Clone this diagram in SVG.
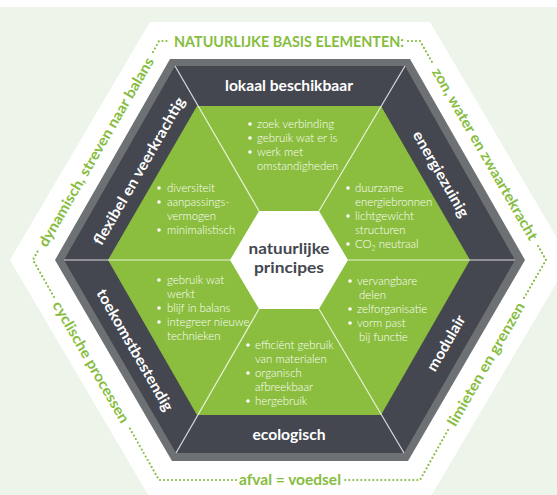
<svg xmlns="http://www.w3.org/2000/svg" width="557" height="495" viewBox="0 0 557 495">
<style>
.lbl{font-family:Lato,"Liberation Sans",sans-serif;font-weight:700;font-size:15px;fill:#ffffff;text-anchor:middle}
.out{font-family:Lato,"Liberation Sans",sans-serif;font-weight:700;font-size:14.5px;fill:#86bd40;text-anchor:middle}
.sec{font-family:Lato,"Liberation Sans",sans-serif;font-weight:300;font-size:11.4px;fill:#ffffff}
.ctr{font-family:Lato,"Liberation Sans",sans-serif;font-weight:700;font-size:16px;fill:#44474f;text-anchor:middle}
.div{stroke:#ffffff;stroke-opacity:0.8;stroke-width:1.2;fill:none}
.dot{stroke:#86bd40;stroke-width:2.2;stroke-linecap:round;stroke-dasharray:0 4;fill:none}
.bul{fill:#ffffff}
</style>
<rect width="557" height="495" fill="#edf5ea"/>
<rect width="557" height="7" fill="#ffffff"/>
<polygon points="150,22 430,22 570,260 430,498 150,498 10,260" fill="#ffffff"/>
<g id="frame">
<polygon points="170,59 410,59 525,260 408,461 172,461 55,260" fill="#6d7173"/>
<polygon points="175,66 405,66 515,260 404,453 176,453 64,260" fill="#44474f"/>
<polygon points="197,106 381,106 470,260 381,415 197,415 108,260" fill="#8bbe3e"/>
</g>
<g id="connectors">
<line class="div" x1="175" y1="66" x2="259" y2="211"/>
<line class="div" x1="405" y1="66" x2="319" y2="211"/>
<line class="div" x1="64" y1="260" x2="230" y2="260"/>
<line class="div" x1="515" y1="260" x2="348" y2="260"/>
<line class="div" x1="176" y1="453" x2="259" y2="309"/>
<line class="div" x1="404" y1="453" x2="319" y2="309"/>
<polyline class="dot" points="153,52 159,41 170,41"/>
<polyline class="dot" points="408,41 420,41 432,62"/>
<polyline class="dot" points="538,246 546,260 524,298"/>
<polyline class="dot" points="448,430 420,480 344,480"/>
<polyline class="dot" points="236,480 159,480 129,427"/>
<polyline class="dot" points="54,297 33,260 39,249"/>
</g>
<g id="center">
<polygon points="259,211 319,211 348,260 319,309 259,309 230,260" fill="#ffffff"/>
<text class="ctr" x="289" y="254" textLength="81" lengthAdjust="spacingAndGlyphs">natuurlijke</text>
<text class="ctr" x="289" y="273" textLength="70" lengthAdjust="spacingAndGlyphs">principes</text>
</g>
<g id="lokaal">
<text class="lbl" x="289" y="91" textLength="128" lengthAdjust="spacingAndGlyphs">lokaal beschikbaar</text>
<circle class="bul" cx="250" cy="124" r="1.8"/><text class="sec" x="257" y="128">zoek verbinding</text>
<circle class="bul" cx="250" cy="138" r="1.8"/><text class="sec" x="257" y="142">gebruik wat er is</text>
<circle class="bul" cx="250" cy="152" r="1.8"/><text class="sec" x="257" y="156">werk met</text>
<text class="sec" x="257" y="170">omstandigheden</text>
</g>
<g id="flexibel">
<text class="lbl" transform="translate(139,171) rotate(-60)" dy=".35em" textLength="168" lengthAdjust="spacingAndGlyphs">flexibel en veerkrachtig</text>
<circle class="bul" cx="159" cy="188" r="1.8"/><text class="sec" x="167" y="192">diversiteit</text>
<circle class="bul" cx="159" cy="202" r="1.8"/><text class="sec" x="167" y="206">aanpassings-</text>
<text class="sec" x="167" y="220">vermogen</text>
<circle class="bul" cx="159" cy="230" r="1.8"/><text class="sec" x="167" y="234">minimalistisch</text>
</g>
<g id="energiezuinig">
<text class="lbl" transform="translate(441,174) rotate(60)" dy=".35em" textLength="97" lengthAdjust="spacingAndGlyphs">energiezuinig</text>
<circle class="bul" cx="348" cy="188" r="1.8"/><text class="sec" x="355" y="192">duurzame</text>
<text class="sec" x="355" y="206">energiebronnen</text>
<circle class="bul" cx="348" cy="216" r="1.8"/><text class="sec" x="355" y="220">lichtgewicht</text>
<text class="sec" x="355" y="234">structuren</text>
<circle class="bul" cx="348" cy="244" r="1.8"/><text class="sec" x="355" y="248">CO<tspan font-size="7" dy="3">2</tspan><tspan dy="-3"> neutraal</tspan></text>
</g>
<g id="toekomstbestendig">
<text class="lbl" transform="translate(135,350) rotate(60)" dy=".35em" textLength="138" lengthAdjust="spacingAndGlyphs">toekomstbestendig</text>
<circle class="bul" cx="159" cy="280" r="1.8"/><text class="sec" x="167" y="284">gebruik wat</text>
<text class="sec" x="167" y="298">werkt</text>
<circle class="bul" cx="159" cy="308" r="1.8"/><text class="sec" x="167" y="312">blijf in balans</text>
<circle class="bul" cx="159" cy="322" r="1.8"/><text class="sec" x="167" y="326">integreer nieuwe</text>
<text class="sec" x="167" y="340">technieken</text>
</g>
<g id="modulair">
<text class="lbl" transform="translate(446,343) rotate(-60)" dy=".35em" textLength="62" lengthAdjust="spacingAndGlyphs">modulair</text>
<circle class="bul" cx="350" cy="281" r="1.8"/><text class="sec" x="357" y="285">vervangbare</text>
<text class="sec" x="359" y="299">delen</text>
<circle class="bul" cx="350" cy="309" r="1.8"/><text class="sec" x="357" y="313">zelforganisatie</text>
<circle class="bul" cx="350" cy="323" r="1.8"/><text class="sec" x="357" y="327">vorm past</text>
<text class="sec" x="359" y="341">bij functie</text>
</g>
<g id="ecologisch">
<text class="lbl" x="289" y="440" textLength="73" lengthAdjust="spacingAndGlyphs">ecologisch</text>
<circle class="bul" cx="248" cy="345" r="1.8"/><text class="sec" x="255" y="349">efficiënt gebruik</text>
<text class="sec" x="255" y="363">van materialen</text>
<circle class="bul" cx="248" cy="373" r="1.8"/><text class="sec" x="255" y="377">organisch</text>
<text class="sec" x="255" y="391">afbreekbaar</text>
<circle class="bul" cx="248" cy="401" r="1.8"/><text class="sec" x="255" y="405">hergebruik</text>
</g>
<g id="outer-labels">
<text class="out" x="289" y="46.5" textLength="230" lengthAdjust="spacingAndGlyphs">NATUURLIJKE BASIS ELEMENTEN:</text>
<text class="out" x="290" y="484.5" textLength="102" lengthAdjust="spacingAndGlyphs">afval = voedsel</text>
<text class="out" transform="translate(96,152) rotate(-60)" dy=".35em" textLength="216" lengthAdjust="spacingAndGlyphs">dynamisch, streven naar balans</text>
<text class="out" transform="translate(485,154) rotate(60)" dy=".35em" textLength="196" lengthAdjust="spacingAndGlyphs">zon, water en zwaartekracht</text>
<text class="out" transform="translate(486,364) rotate(-60)" dy=".35em" textLength="140" lengthAdjust="spacingAndGlyphs">limieten en grenzen</text>
<text class="out" transform="translate(91,362) rotate(60)" dy=".35em" textLength="138" lengthAdjust="spacingAndGlyphs">cyclische processen</text>
</g>
</svg>
